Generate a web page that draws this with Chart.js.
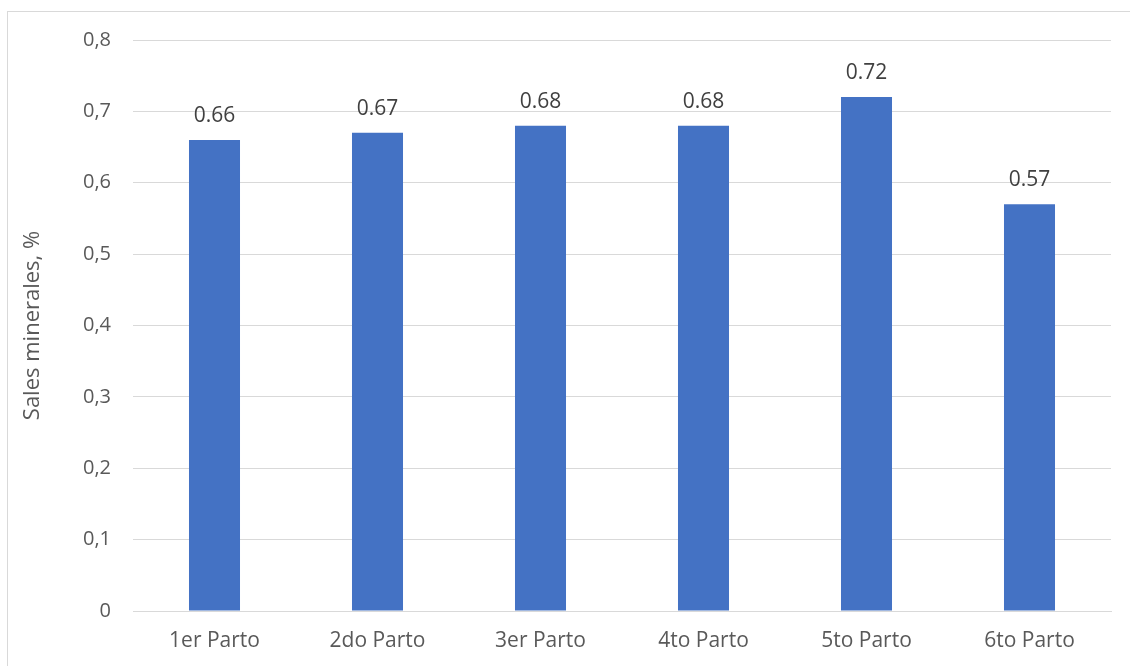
<!DOCTYPE html>
<html>
<head>
<meta charset="utf-8">
<script src="https://cdn.jsdelivr.net/npm/chart.js@4/dist/chart.umd.min.js"></script>
<style>
  html, body { margin: 0; padding: 0; background: #fff; }
  #wrap { width: 1130px; height: 666px; position: relative; }
</style>
</head>
<body>
<div id="wrap"><canvas id="c" width="1130" height="666"></canvas></div>
<script>
const categories = ['1er Parto', '2do Parto', '3er Parto', '4to Parto', '5to Parto', '6to Parto'];
const salesMinerales = [0.66, 0.67, 0.68, 0.68, 0.72, 0.57];
const yTicks = [0, 0.1, 0.2, 0.3, 0.4, 0.5, 0.6, 0.7, 0.8];
const yTitle = 'Sales minerales, %';

const FONT = '"Open Sans", Lato, sans-serif';

// Outer frame of the chart
const framePlugin = {
  id: 'frame',
  beforeDraw(chart) {
    const ctx = chart.ctx;
    ctx.save();
    ctx.fillStyle = '#ffffff';
    ctx.fillRect(0, 0, chart.width, chart.height);
    ctx.strokeStyle = '#d9d9d9';
    ctx.lineWidth = 1;
    ctx.strokeRect(7.5, 11.5, chart.width + 10, chart.height + 10);
    ctx.restore();
  }
};

// Value labels above each bar
const valueLabels = {
  id: 'valueLabels',
  afterDatasetsDraw(chart) {
    const ctx = chart.ctx;
    const meta = chart.getDatasetMeta(0);
    ctx.save();
    ctx.font = '21px ' + FONT;
    ctx.fillStyle = '#404040';
    ctx.textAlign = 'center';
    ctx.textBaseline = 'middle';
    meta.data.forEach((bar, i) => {
      ctx.fillText(salesMinerales[i].toFixed(2), bar.x, bar.y - 24);
    });
    ctx.restore();
  }
};

new Chart(document.getElementById('c'), {
  type: 'bar',
  data: {
    labels: categories,
    datasets: [{
      data: salesMinerales,
      backgroundColor: '#4472C4',
      borderWidth: 0,
      barPercentage: 0.313,
      categoryPercentage: 1
    }]
  },
  options: {
    responsive: false,
    animation: false,
    devicePixelRatio: 1,
    layout: { padding: { top: 40, right: 19, left: 0, bottom: 0 } },
    plugins: { legend: { display: false }, tooltip: { enabled: false } },
    scales: {
      x: {
        grid: { display: false, drawTicks: false },
        border: { color: '#d9d9d9', width: 1 },
        ticks: { color: '#595959', font: { family: FONT, size: 21 }, padding: 17 },
        afterFit(scale) { scale.height = 55; }
      },
      y: {
        min: 0,
        max: 0.8,
        afterBuildTicks(scale) { scale.ticks = yTicks.map(v => ({ value: v })); },
        grid: { color: '#d9d9d9', lineWidth: 1, drawTicks: false },
        border: { display: false },
        ticks: {
          color: '#595959',
          font: { family: FONT, size: 20 },
          padding: 22,
          callback: v => v === 0 ? '0' : v.toFixed(1).replace('.', ',')
        },
        title: {
          display: true,
          text: yTitle,
          color: '#595959',
          font: { family: FONT, size: 22 },
          padding: { top: 20, bottom: 0 }
        },
        afterFit(scale) { scale.width = 133; }
      }
    }
  },
  plugins: [framePlugin, valueLabels]
});
</script>
</body>
</html>
